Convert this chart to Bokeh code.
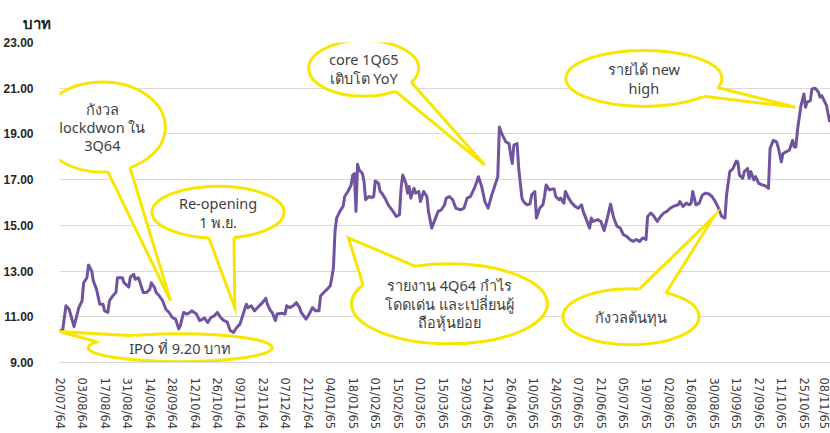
import math
import pandas as pd
from bokeh.plotting import figure
from bokeh.models import FixedTicker, Range1d, PrintfTickFormatter
from bokeh.core.properties import value
from bokeh.embed import file_html
from bokeh.resources import INLINE

# ---------------- data ----------------
dates = [
    "2021-07-20", "2021-07-22", "2021-07-24", "2021-07-26", "2021-07-29", "2021-08-01", "2021-08-03", "2021-08-04",
    "2021-08-06", "2021-08-07", "2021-08-08", "2021-08-09", "2021-08-10", "2021-08-12", "2021-08-14", "2021-08-16",
    "2021-08-17", "2021-08-19", "2021-08-20", "2021-08-22", "2021-08-24", "2021-08-25", "2021-08-28", "2021-08-29",
    "2021-09-01", "2021-09-02", "2021-09-04", "2021-09-05", "2021-09-07", "2021-09-08", "2021-09-10", "2021-09-12",
    "2021-09-14", "2021-09-15", "2021-09-17", "2021-09-18", "2021-09-20", "2021-09-22", "2021-09-24", "2021-09-26",
    "2021-09-28", "2021-09-30", "2021-10-02", "2021-10-03", "2021-10-05", "2021-10-07", "2021-10-09", "2021-10-10",
    "2021-10-13", "2021-10-15", "2021-10-18", "2021-10-20", "2021-10-22", "2021-10-24", "2021-10-26", "2021-10-28",
    "2021-10-30", "2021-11-01", "2021-11-03", "2021-11-05", "2021-11-07", "2021-11-09", "2021-11-11", "2021-11-13",
    "2021-11-14", "2021-11-16", "2021-11-18", "2021-11-21", "2021-11-23", "2021-11-25", "2021-11-26", "2021-11-28",
    "2021-11-29", "2021-12-01", "2021-12-02", "2021-12-05", "2021-12-07", "2021-12-08", "2021-12-10", "2021-12-12",
    "2021-12-14", "2021-12-16", "2021-12-17", "2021-12-20", "2021-12-22", "2021-12-24", "2021-12-26", "2021-12-28",
    "2021-12-29", "2021-12-31", "2022-01-02", "2022-01-04", "2022-01-05", "2022-01-06", "2022-01-07", "2022-01-08",
    "2022-01-10", "2022-01-12", "2022-01-13", "2022-01-15", "2022-01-17", "2022-01-18", "2022-01-19", "2022-01-20",
    "2022-01-21", "2022-01-22", "2022-01-24", "2022-01-25", "2022-01-26", "2022-01-28", "2022-01-30", "2022-01-31",
    "2022-02-01", "2022-02-03", "2022-02-04", "2022-02-05", "2022-02-07", "2022-02-09", "2022-02-12", "2022-02-14",
    "2022-02-16", "2022-02-17", "2022-02-18", "2022-02-20", "2022-02-21", "2022-02-22", "2022-02-23", "2022-02-25",
    "2022-02-26", "2022-02-28", "2022-03-01", "2022-03-03", "2022-03-05", "2022-03-06", "2022-03-08", "2022-03-10",
    "2022-03-12", "2022-03-14", "2022-03-16", "2022-03-17", "2022-03-19", "2022-03-21", "2022-03-23", "2022-03-26",
    "2022-03-28", "2022-03-30", "2022-04-01", "2022-04-03", "2022-04-05", "2022-04-06", "2022-04-08", "2022-04-10",
    "2022-04-12", "2022-04-14", "2022-04-16", "2022-04-18", "2022-04-19", "2022-04-20", "2022-04-21", "2022-04-23",
    "2022-04-25", "2022-04-26", "2022-04-27", "2022-04-28", "2022-04-30", "2022-05-01", "2022-05-03", "2022-05-04",
    "2022-05-06", "2022-05-08", "2022-05-09", "2022-05-11", "2022-05-12", "2022-05-14", "2022-05-16", "2022-05-17",
    "2022-05-18", "2022-05-20", "2022-05-22", "2022-05-23", "2022-05-24", "2022-05-26", "2022-05-27", "2022-05-29",
    "2022-05-30", "2022-06-01", "2022-06-03", "2022-06-05", "2022-06-07", "2022-06-09", "2022-06-10", "2022-06-12",
    "2022-06-14", "2022-06-15", "2022-06-16", "2022-06-19", "2022-06-21", "2022-06-23", "2022-06-25", "2022-06-27",
    "2022-06-29", "2022-07-01", "2022-07-03", "2022-07-05", "2022-07-07", "2022-07-09", "2022-07-11", "2022-07-13",
    "2022-07-15", "2022-07-17", "2022-07-19", "2022-07-20", "2022-07-22", "2022-07-23", "2022-07-24", "2022-07-26",
    "2022-07-28", "2022-07-30", "2022-08-01", "2022-08-03", "2022-08-05", "2022-08-08", "2022-08-09", "2022-08-11",
    "2022-08-13", "2022-08-15", "2022-08-16", "2022-08-17", "2022-08-19", "2022-08-21", "2022-08-23", "2022-08-25",
    "2022-08-27", "2022-08-29", "2022-08-31", "2022-09-02", "2022-09-04", "2022-09-06", "2022-09-07", "2022-09-09",
    "2022-09-11", "2022-09-13", "2022-09-14", "2022-09-15", "2022-09-17", "2022-09-18", "2022-09-20", "2022-09-21",
    "2022-09-22", "2022-09-24", "2022-09-25", "2022-09-27", "2022-09-29", "2022-10-01", "2022-10-03", "2022-10-04",
    "2022-10-06", "2022-10-08", "2022-10-09", "2022-10-11", "2022-10-12", "2022-10-14", "2022-10-16", "2022-10-18",
    "2022-10-19", "2022-10-20", "2022-10-21", "2022-10-23", "2022-10-25", "2022-10-26", "2022-10-27", "2022-10-29",
    "2022-10-30", "2022-11-01", "2022-11-03", "2022-11-04", "2022-11-05", "2022-11-07", "2022-11-08", "2022-11-10",
]

prices = [
    10.39, 10.42, 11.48, 11.33, 10.57, 11.40, 11.70, 12.49,
    12.71, 13.26, 13.14, 13.00, 12.57, 12.20, 11.55, 11.55,
    11.26, 11.19, 11.70, 11.91, 12.06, 12.71, 12.71, 12.49,
    12.30, 12.74, 12.86, 12.64, 12.71, 12.49, 12.06, 12.06,
    12.20, 12.49, 12.27, 12.06, 11.91, 11.70, 11.33, 11.19,
    10.97, 10.90, 10.47, 10.61, 11.19, 11.12, 11.19, 11.26,
    11.12, 10.83, 10.94, 10.75, 10.97, 11.04, 11.19, 10.97,
    10.83, 10.78, 10.39, 10.32, 10.53, 10.68, 11.12, 11.55,
    11.40, 11.48, 11.26, 11.48, 11.62, 11.81, 11.55, 11.26,
    11.19, 10.83, 11.12, 11.15, 11.12, 11.48, 11.40, 11.48,
    11.62, 11.40, 11.19, 10.90, 11.12, 11.40, 11.26, 11.26,
    11.91, 12.06, 12.20, 12.35, 12.71, 13.14, 14.74, 15.32,
    15.61, 15.83, 16.26, 16.48, 16.77, 17.20, 17.27, 15.61,
    17.67, 17.42, 17.27, 16.91, 16.12, 16.26, 16.22, 16.26,
    16.94, 16.84, 16.48, 16.41, 16.19, 15.90, 15.61, 15.39,
    15.47, 16.62, 17.20, 16.84, 16.41, 16.70, 16.19, 16.62,
    16.41, 16.48, 16.04, 16.48, 16.26, 15.61, 14.88, 15.25,
    15.61, 15.68, 15.90, 16.19, 16.26, 16.12, 15.75, 15.68,
    15.75, 16.19, 16.26, 16.55, 16.91, 17.13, 16.70, 16.04,
    15.75, 16.26, 16.70, 17.13, 19.30, 19.09, 18.94, 18.65,
    18.58, 18.07, 17.71, 18.51, 18.58, 17.49, 16.19, 16.04,
    15.90, 15.93, 16.33, 16.48, 15.32, 15.75, 15.90, 16.26,
    16.77, 16.55, 16.59, 16.59, 16.26, 16.12, 16.19, 15.97,
    16.48, 16.19, 15.97, 15.83, 15.75, 15.90, 15.61, 15.25,
    14.88, 15.32, 15.17, 15.25, 15.17, 14.77, 15.32, 15.93,
    15.32, 14.96, 14.88, 14.59, 14.52, 14.38, 14.30, 14.38,
    14.30, 14.45, 14.38, 15.39, 15.54, 15.47, 15.39, 15.17,
    15.39, 15.54, 15.61, 15.75, 15.83, 15.90, 16.04, 15.83,
    15.97, 15.90, 15.97, 16.48, 15.90, 15.97, 16.33, 16.41,
    16.37, 16.26, 16.04, 15.75, 15.39, 15.32, 16.33, 17.35,
    17.49, 17.81, 17.78, 17.20, 17.06, 17.35, 17.49, 17.06,
    17.35, 16.99, 17.13, 16.84, 16.77, 16.73, 16.62, 18.36,
    18.72, 18.65, 18.43, 17.78, 18.14, 18.22, 18.29, 18.72,
    18.43, 18.43, 19.16, 20.17, 20.75, 20.17, 20.39, 20.46,
    20.97, 21.00, 20.83, 20.61, 20.68, 20.39, 20.25, 19.52,
]

tick_labels = [
    "20/07/64", "03/08/64", "17/08/64", "31/08/64", "14/09/64", "28/09/64", "12/10/64",
    "26/10/64", "09/11/64", "23/11/64", "07/12/64", "21/12/64", "04/01/65", "18/01/65",
    "01/02/65", "15/02/65", "01/03/65", "15/03/65", "29/03/65", "12/04/65", "26/04/65",
    "10/05/65", "24/05/65", "07/06/65", "21/06/65", "05/07/65", "19/07/65", "02/08/65",
    "16/08/65", "30/08/65", "13/09/65", "27/09/65", "11/10/65", "25/10/65", "08/11/65",
]

y_ticks = [9, 11, 13, 15, 17, 19, 21, 23]
y_unit = "บาท"

# callouts: text, centre (days after IPO, price), tip (days after IPO, price)
callout_texts = [
    "กังวล\nlockdwon ใน\n3Q64",
    "Re-opening\n1 พ.ย.",
    "IPO ที่ 9.20 บาท",
    "core 1Q65\nเติบโต YoY",
    "รายงาน 4Q64 กำไร\nโดดเด่น และเปลี่ยนผู้\nถือหุ้นย่อย",
    "รายได้ new\nhigh",
    "กังวลต้นทุน",
]
callout_center = [(26.6, 19.30), (98.4, 15.57), (74.9, 9.65), (188.8, 21.87),
                  (242.0, 11.565), (362.7, 21.43), (354.7, 11.0)]
callout_tip = [(68.9, 11.70), (108.8, 11.40), (0.0, 10.35), (263.9, 17.64),
               (179.3, 14.45), (456.8, 20.17), (406.2, 15.39)]

# ---------------- style / layout ----------------
FONT = "Noto Sans"
AXFONT = "DejaVu Sans"
YEL = "#F9E600"
PURPLE = "#7054A0"
GRID = "#D9D9D9"
TXT = "#3F3F3F"

W, H = 830, 433
BL, BR, BT, BB = 57, 0, 40, 71

# bubble radii (px) and tail base angles (deg, screen, y down)
bubble_r = [(63, 45), (66, 26), (92, 14), (55, 28), (98, 40), (78, 28), (68, 28)]
tail_ang = [(64, 85), (76, 98), (205, 239), (30, 55), (208, 250), (19, 40), (277, 301)]

EPOCH = pd.Timestamp("1970-01-01")
DAY_MS = 86400000.0


def ms(ts):
    return (pd.Timestamp(ts) - EPOCH) / pd.Timedelta(milliseconds=1)


def label_to_ts(s):
    d, m, y = s.split("/")
    return pd.Timestamp(year=int(y) + 1957, month=int(m), day=int(d))


start = pd.Timestamp(dates[0])
end = pd.Timestamp("2022-11-10 12:00")
x0 = ms(start)

p = figure(width=W, height=H, x_axis_type="datetime",
           x_range=Range1d(x0, ms(end)), y_range=Range1d(9, 23),
           output_backend="svg", toolbar_location=None,
           min_border_left=BL, min_border_right=BR,
           min_border_top=BT, min_border_bottom=BB)
p.outline_line_color = None
p.background_fill_color = "white"
p.border_fill_color = "white"

p.title.text = y_unit
p.title.align = "left"
p.title.offset = -37
p.title.standoff = 20
p.title.text_font = FONT
p.title.text_font_style = "bold"
p.title.text_font_size = "15px"
p.title.text_color = "#222222"

# axes
xt = [ms(label_to_ts(s)) for s in tick_labels]
p.xaxis.ticker = FixedTicker(ticks=xt)
p.xaxis.major_label_overrides = {t: s for t, s in zip(xt, tick_labels)}
p.xaxis.major_label_orientation = "vertical"
p.xaxis.major_label_text_font = AXFONT
p.xaxis.major_label_text_font_size = "11.5px"
p.xaxis.major_label_text_color = "#404040"
p.xaxis.major_label_standoff = 9
p.xaxis.major_tick_line_color = None
p.xaxis.minor_tick_line_color = None
p.xaxis.axis_line_color = GRID

p.yaxis.ticker = FixedTicker(ticks=y_ticks)
p.yaxis.formatter = PrintfTickFormatter(format="%.2f")
p.yaxis.major_label_text_font = "Liberation Sans"
p.yaxis.major_label_text_font_style = "bold"
p.yaxis.major_label_text_font_size = "12px"
p.yaxis.major_label_text_color = "#262626"
p.yaxis.major_label_standoff = 20
p.yaxis.major_tick_line_color = None
p.yaxis.minor_tick_line_color = None
p.yaxis.axis_line_color = None

p.xgrid.visible = False
p.ygrid.grid_line_color = GRID
p.ygrid.grid_line_width = 1

# price line
xs = [pd.Timestamp(d) for d in dates]
p.line(xs, prices, line_color=PURPLE, line_width=3, line_join="round")

# callouts
frame_w = W - BL - BR
frame_h = H - BT - BB
px_day = frame_w / ((end - start) / pd.Timedelta(days=1))
px_unit = frame_h / (23 - 9)

for txt, (cd, cv), (td, tv), (rx, ry), (a1, a2) in zip(
        callout_texts, callout_center, callout_tip, bubble_r, tail_ang):
    cx = x0 + cd * DAY_MS
    tx = x0 + td * DAY_MS
    p.ellipse(x=[cx], y=[cv], width=[2 * rx], height=[2 * ry],
              width_units="screen", height_units="screen",
              fill_color="white", line_color=YEL, line_width=3)
    bxs, bys = [], []
    for a in (a1, a2):
        r = math.radians(a)
        bxs.append(cx + rx * math.cos(r) / px_day * DAY_MS)
        bys.append(cv - ry * math.sin(r) / px_unit)
    p.patch([bxs[0], tx, bxs[1], cx], [bys[0], tv, bys[1], cv],
            fill_color="white", line_color=None)
    p.line([bxs[0], tx, bxs[1]], [bys[0], tv, bys[1]],
           line_color=YEL, line_width=3, line_join="miter")
    p.text(x=[cx], y=[cv], text=[txt], text_align="center", text_baseline="middle",
           text_font=value(FONT), text_font_size="14.5px", text_color=TXT,
           text_line_height=0.92)

open("out.html", "w").write(file_html(p, INLINE))
